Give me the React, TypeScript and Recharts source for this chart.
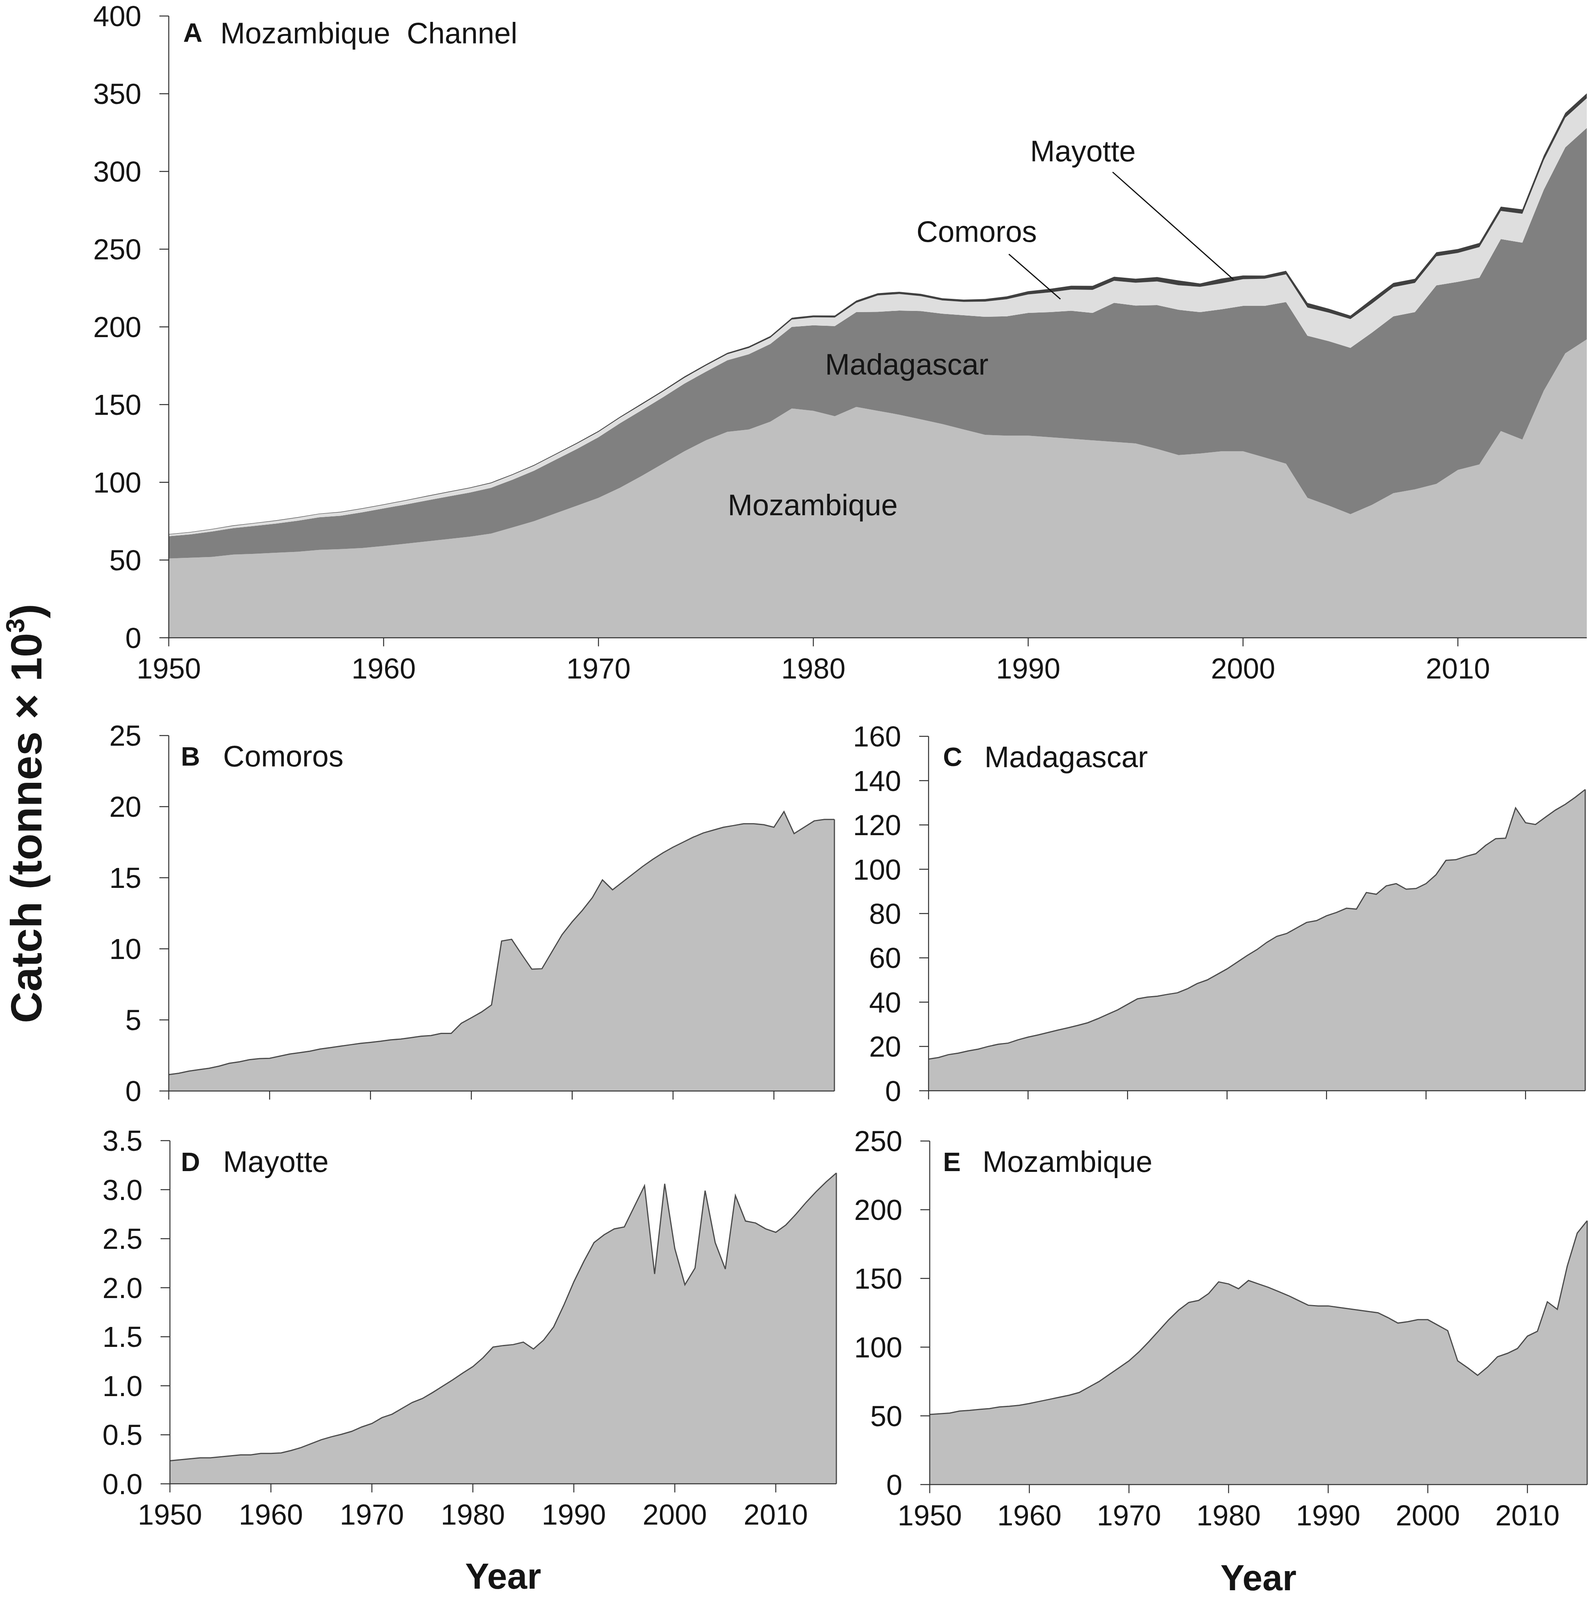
import React from 'react';
import { AreaChart, Area, XAxis, YAxis, ReferenceLine } from 'recharts';

const years: number[] = Array.from({ length: 67 }, (_, i) => 1950 + i);
const decadeTicks = [1950, 1960, 1970, 1980, 1990, 2000, 2010];

const mozambique = [
  51, 51.5, 52, 53.5, 54, 54.7, 55.3, 56.5, 57, 57.7,
  59, 60.5, 62, 63.5, 65, 67, 71, 75, 80, 85,
  90, 96.5, 104, 112, 120, 127, 132.5, 134, 139, 147.5,
  146, 142.5, 148.5, 146, 143.5, 140.5, 137.5, 134, 130.5, 130,
  130, 129, 128, 127, 126, 125, 121.5, 117.5, 118.5, 120,
  120, 116, 112, 90, 85, 79.5, 85.5, 93, 95.5, 99,
  108, 111.5, 133, 127.5, 159, 183, 192,
];
const madagascar = [
  14.3, 15, 16.3, 17, 18, 18.8, 20, 21, 21.5, 23,
  24.2, 25.2, 26.3, 27.4, 28.4, 29.5, 30.7, 32.5, 34.5, 36.5,
  39, 41.5, 42.3, 42.7, 43.5, 44.2, 46, 48.4, 50, 52.5,
  55, 58, 61, 63.7, 67, 69.7, 71, 73.5, 76, 76.8,
  79, 80.5, 82.4, 82, 89.5, 88.7, 92.5, 93.5, 91, 91.3,
  93.5, 97.5, 104, 104.3, 105.8, 107, 110.8, 113.8, 114, 127.7,
  121, 120.2, 123.5, 126.7, 129.3, 132.5, 136,
];
const comoros = [
  1.15, 1.25, 1.4, 1.5, 1.6, 1.75, 1.95, 2.05, 2.2, 2.28,
  2.3, 2.45, 2.6, 2.7, 2.8, 2.95, 3.05, 3.15, 3.25, 3.35,
  3.42, 3.5, 3.6, 3.65, 3.75, 3.85, 3.9, 4.05, 4.05, 4.76,
  5.15, 5.55, 6.05, 10.55, 10.67, 9.6, 8.57, 8.6, 9.8, 11,
  11.9, 12.7, 13.6, 14.85, 14.15, 14.7, 15.25, 15.8, 16.3, 16.75,
  17.15, 17.5, 17.85, 18.15, 18.35, 18.55, 18.67, 18.8, 18.8, 18.73,
  18.55, 19.65, 18.1, 18.55, 19, 19.1, 19.1,
];
const mayotte = [
  0.235, 0.245, 0.255, 0.265, 0.265, 0.275, 0.285, 0.295, 0.295, 0.31,
  0.31, 0.315, 0.34, 0.37, 0.41, 0.45, 0.48, 0.505, 0.535, 0.58,
  0.615, 0.675, 0.71, 0.77, 0.83, 0.87, 0.93, 0.995, 1.06, 1.13,
  1.195, 1.285, 1.395, 1.41, 1.42, 1.445, 1.375, 1.465, 1.6, 1.82,
  2.06, 2.27, 2.46, 2.54, 2.6, 2.62, 2.83, 3.04, 2.14, 3.06,
  2.4, 2.03, 2.2, 2.99, 2.46, 2.19, 2.94, 2.68, 2.66, 2.6,
  2.565, 2.64, 2.75, 2.87, 2.98, 3.08, 3.17,
];

const rows = years.map((year, i) => ({
  year,
  mozambique: mozambique[i],
  madagascar: madagascar[i],
  comoros: comoros[i],
  mayotte: mayotte[i],
}));

const ticksA = [0, 50, 100, 150, 200, 250, 300, 350, 400];
const ticksB = [0, 5, 10, 15, 20, 25];
const ticksC = [0, 20, 40, 60, 80, 100, 120, 140, 160];
const ticksD = [0, 0.5, 1, 1.5, 2, 2.5, 3, 3.5];
const ticksE = [0, 50, 100, 150, 200, 250];

const FONT = '"Liberation Sans", Arial, sans-serif';
const INK = '#151515';
const AXIS = '#303030';
const GREY = '#BFBFBF';
const TICK = { fontSize: 74, fontFamily: FONT, fill: INK };

// The window is only 4096px tall, so the reference's vertical layout is compressed to fit it.
const PAGE_W = 4083;
const PAGE_H = 4096;
const Y = (y: number) => (y * PAGE_H) / 4704;

function box(left: number, right: number, top: number, bottom: number, below: number) {
  const pad = 41;
  const side = 20;
  const yw = 400;
  const boxLeft = left - yw - side;
  const t = Math.max(Y(top), pad);
  const b = Y(bottom);
  return {
    style: { position: 'absolute' as const, left: boxLeft, top: t - pad },
    width: right + side - boxLeft,
    height: b + below - (t - pad),
    margin: { left: side, right: side, top: pad, bottom: 0 },
    yw,
    xh: below,
  };
}

function axes(domainMax: number, yTicks: number[], b: any, opts: { labels?: boolean; fmt?: (v: number) => string; year?: number } = {}) {
  const { labels = true, fmt, year } = opts;
  return [
    <XAxis
      key="x"
      dataKey="year"
      type="number"
      domain={[1950, 2016]}
      ticks={decadeTicks}
      interval={0}
      height={b.xh}
      tickSize={22}
      tickMargin={30}
      tick={TICK}
      tickLine={{ stroke: AXIS, strokeWidth: 2.5 }}
      axisLine={{ stroke: AXIS, strokeWidth: 2.5 }}
      tickFormatter={labels ? (v: number) => String(v) : () => ''}
      label={
        year
          ? { value: 'Year', position: 'insideTopLeft', content: (p: any) => (
              <text
                x={p.viewBox.x + p.viewBox.width / 2}
                y={p.viewBox.y + year}
                textAnchor="middle"
                fontSize={92}
                fontWeight="bold"
                fontFamily={FONT}
                fill={INK}
              >
                Year
              </text>
            ) }
          : undefined
      }
    />,
    <YAxis
      key="y"
      type="number"
      domain={[0, domainMax]}
      ticks={yTicks}
      interval={0}
      width={b.yw}
      tickSize={24}
      tickMargin={46}
      tick={TICK}
      tickLine={{ stroke: AXIS, strokeWidth: 2.5 }}
      axisLine={{ stroke: AXIS, strokeWidth: 2.5 }}
      tickFormatter={fmt}
    />,
  ];
}

function Single(props: {
  b: any;
  dataKey: string;
  last: number;
  max: number;
  ticks: number[];
  labels?: boolean;
  fmt?: (v: number) => string;
  year?: number;
}) {
  const { b, dataKey, last, max, ticks, labels, fmt, year } = props;
  return (
    <div style={b.style}>
      <AreaChart width={b.width} height={b.height} data={rows} margin={b.margin}>
        {axes(max, ticks, b, { labels, fmt, year })}
        <Area
          type="linear"
          dataKey={dataKey}
          fill={GREY}
          fillOpacity={1}
          stroke="#4a4a4a"
          strokeWidth={3}
          dot={false}
          activeDot={false}
          isAnimationActive={false}
        />
        <ReferenceLine
          segment={[{ x: 2016, y: 0 }, { x: 2016, y: last }]}
          stroke="#4a4a4a"
          strokeWidth={3}
        />
      </AreaChart>
    </div>
  );
}

const boxA = box(432, 4062, 43, 1875, 140);
const boxB = box(432, 2136, 2162, 3207, 60);
const boxC = box(2377, 4058, 2165, 3207, 60);
const boxD = box(435, 2141, 3354, 4363, 295);
const boxE = box(2380, 4063, 3355, 4365, 295);

const stacked: [string, string][] = [
  ['mozambique', '#BFBFBF'],
  ['madagascar', '#808080'],
  ['comoros', '#DEDEDE'],
  ['mayotte', '#404040'],
];

const titles: [string, number, number, string, number, number][] = [
  ['A', 469, 123, 'Mozambique  Channel', 564, 127],
  ['B', 463, 2251, 'Comoros', 571, 2253],
  ['C', 2414, 2252, 'Madagascar', 2520, 2255],
  ['D', 463, 3443, 'Mayotte', 571, 3445],
  ['E', 2414, 3443, 'Mozambique', 2515, 3445],
];

const notes: [string, number, number][] = [
  ['Mayotte', 2637, 474],
  ['Comoros', 2346, 711],
  ['Madagascar', 2112, 1101],
  ['Mozambique', 1863, 1515],
];

export default function App() {
  return (
    <div style={{ position: 'relative', margin: -8, width: PAGE_W, height: PAGE_H, background: '#fff', overflow: 'hidden' }}>
      <div style={boxA.style}>
        <AreaChart width={boxA.width} height={boxA.height} data={rows} margin={boxA.margin}>
          {axes(400, ticksA, boxA)}
          {stacked.map(([key, color]) => (
            <Area
              key={key}
              type="linear"
              dataKey={key}
              stackId="all"
              fill={color}
              fillOpacity={1}
              stroke="none"
              dot={false}
              activeDot={false}
              isAnimationActive={false}
            />
          ))}
          <ReferenceLine
            segment={[{ x: 1993.93, y: 299.6 }, { x: 1999.56, y: 230.4 }]}
            stroke="#111"
            strokeWidth={3}
          />
          <ReferenceLine
            segment={[{ x: 1989.1, y: 246.8 }, { x: 1991.5, y: 217.9 }]}
            stroke="#111"
            strokeWidth={3}
          />
        </AreaChart>
      </div>
      <Single b={boxB} dataKey="comoros" last={comoros[66]} max={25} ticks={ticksB} labels={false} />
      <Single b={boxC} dataKey="madagascar" last={madagascar[66]} max={160} ticks={ticksC} labels={false} />
      <Single b={boxD} dataKey="mayotte" last={mayotte[66]} max={3.5} ticks={ticksD} fmt={(v) => v.toFixed(1)} year={268} />
      <Single b={boxE} dataKey="mozambique" last={mozambique[66]} max={250} ticks={ticksE} year={271} />
      <svg
        width={PAGE_W}
        height={PAGE_H}
        style={{ position: 'absolute', left: 0, top: 0, pointerEvents: 'none' }}
        fontFamily={FONT}
        fill={INK}
      >
        {titles.map(([letter, lx, ly, name, nx, ny]) => (
          <g key={letter}>
            <text x={lx} y={Y(ly)} fontSize={68} fontWeight="bold">{letter}</text>
            <text x={nx} y={Y(ny)} fontSize={76} style={{ whiteSpace: 'pre' }}>{name}</text>
          </g>
        ))}
        {notes.map(([name, x, y]) => (
          <text key={name} x={x} y={Y(y)} fontSize={76}>{name}</text>
        ))}
        <text transform={`translate(106,${Y(3008)}) rotate(-90)`} fontSize={112} fontWeight="bold">
          Catch (tonnes × 10
          <tspan fontSize={67} dy={-44}>3</tspan>
          <tspan dy={44}>)</tspan>
        </text>
      </svg>
    </div>
  );
}
